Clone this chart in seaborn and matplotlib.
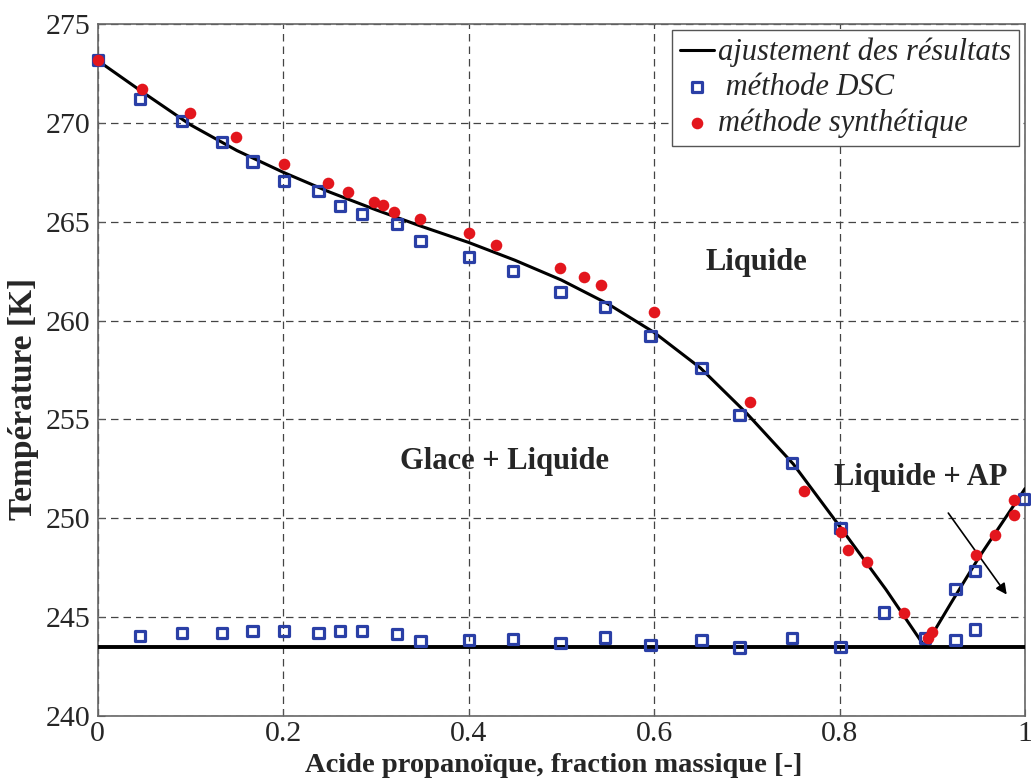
import matplotlib
matplotlib.use("Agg")
import matplotlib.pyplot as plt
import seaborn as sns
import pandas as pd

# ---- data ----
fit_liq_x = [0.0, 0.05, 0.10, 0.15, 0.20, 0.25, 0.30, 0.35, 0.40, 0.45, 0.50,
             0.55, 0.60, 0.65, 0.70, 0.75, 0.80, 0.85, 0.892]
fit_liq_T = [273.15, 271.5, 269.9, 268.6, 267.5, 266.5, 265.6, 264.75, 263.95,
             263.05, 262.05, 260.85, 259.4, 257.6, 255.3, 252.75, 249.6, 246.4, 243.5]
fit_ap_x = [0.892, 0.92, 0.95, 1.0]
fit_ap_T = [243.5, 245.7, 248.0, 251.5]
fit_sol_x = [0.0, 1.0]
fit_sol_T = [243.5, 243.5]

dsc_liq_x = [0.0, 0.046, 0.091, 0.134, 0.167, 0.201, 0.238, 0.261, 0.285, 0.323,
             0.348, 0.400, 0.448, 0.499, 0.547, 0.596, 0.651, 0.692, 0.749, 0.801,
             0.848, 0.892, 0.925, 0.946, 0.999]
dsc_liq_T = [273.18, 271.2, 270.11, 269.02, 268.04, 267.07, 266.57, 265.81, 265.37,
             264.87, 264.02, 263.23, 262.51, 261.46, 260.67, 259.22, 257.62, 255.22,
             252.78, 249.49, 245.24, 243.93, 246.41, 247.33, 250.96]
dsc_sol_x = [0.046, 0.091, 0.134, 0.167, 0.201, 0.238, 0.261, 0.285, 0.323, 0.348,
             0.400, 0.448, 0.499, 0.547, 0.596, 0.651, 0.692, 0.749, 0.801, 0.925, 0.946]
dsc_sol_T = [244.03, 244.2, 244.2, 244.28, 244.28, 244.2, 244.28, 244.28, 244.13,
             243.79, 243.84, 243.89, 243.70, 243.97, 243.59, 243.84, 243.47, 243.96,
             243.5, 243.84, 244.38]

syn_x = [0.0, 0.048, 0.100, 0.149, 0.201, 0.248, 0.270, 0.298, 0.308, 0.319, 0.348,
         0.400, 0.430, 0.499, 0.524, 0.543, 0.600, 0.703, 0.762, 0.802, 0.809, 0.830,
         0.870, 0.895, 0.900, 0.947, 0.968, 0.988, 0.988]
syn_T = [273.18, 271.71, 270.48, 269.27, 267.92, 266.94, 266.52, 266.01, 265.85,
         265.47, 265.12, 264.41, 263.82, 262.68, 262.22, 261.80, 260.42, 255.88,
         251.38, 249.29, 248.39, 247.80, 245.19, 243.93, 244.23, 248.14, 249.15,
         250.16, 250.92]

x_ticks = [0, 0.2, 0.4, 0.6, 0.8, 1]
x_ticklabels = ["0", "0.2", "0.4", "0.6", "0.8", "1"]
y_ticks = [240, 245, 250, 255, 260, 265, 270, 275]

labels = ["ajustement des résultats", " méthode DSC", "méthode synthétique"]
region_labels = ["Liquide", "Glace + Liquide", "Liquide + AP"]

# ---- style ----
sns.set_style("ticks")
plt.rcParams["font.family"] = ["Liberation Serif", "DejaVu Serif"]

fig = plt.figure(figsize=(10.31, 7.81), dpi=100)
ax = fig.add_axes([0.0948, 0.0832, 0.8994, 0.8861])

blue = "#2a3fa6"
red = "#e3161d"

# fit lines
sns.lineplot(x=fit_liq_x, y=fit_liq_T, ax=ax, color="black", lw=2.2,
             sort=False, label=labels[0], zorder=3)
sns.lineplot(x=fit_ap_x, y=fit_ap_T, ax=ax, color="black", lw=2.2,
             sort=False, zorder=3, legend=False)
sns.lineplot(x=fit_sol_x, y=fit_sol_T, ax=ax, color="black", lw=2.8,
             sort=False, zorder=3, legend=False)

dsc = pd.DataFrame({"x": dsc_liq_x + dsc_sol_x, "T": dsc_liq_T + dsc_sol_T})
syn = pd.DataFrame({"x": syn_x, "T": syn_T})
sns.scatterplot(data=dsc, x="x", y="T", ax=ax, marker="s", s=54,
                facecolor="none", edgecolor=blue, linewidth=2.3,
                label=labels[1], zorder=4, clip_on=False)
sns.scatterplot(data=syn, x="x", y="T", ax=ax, marker="o", s=70,
                color=red, edgecolor=red, linewidth=0,
                label=labels[2], zorder=5, clip_on=False)

ax.set_xlim(0, 1)
ax.set_ylim(240, 275)
ax.set_xticks(x_ticks)
ax.set_xticklabels(x_ticklabels)
ax.set_yticks(y_ticks)
ax.tick_params(direction="in", length=5, labelsize=21.5, color="#555555")
ax.tick_params(axis="x", pad=3.5)
ax.tick_params(axis="y", pad=5.5)
for s in ax.spines.values():
    s.set_color("#666666")
    s.set_linewidth(1.2)

ax.grid(True, linestyle=(0, (6, 4)), color="#444444", linewidth=0.9)
ax.set_axisbelow(True)

ax.set_xlabel("Acide propanoïque, fraction massique [-]", fontsize=20.5,
              fontweight="bold")
ax.set_ylabel("Température [K]", fontsize=24, fontweight="bold")
ax.xaxis.set_label_coords(0.492, -0.054)
ax.yaxis.set_label_coords(-0.063, 0.458)

ax.text(0.710, 262.96, region_labels[0], fontsize=22, fontweight="bold",
        ha="center", va="center")
ax.text(0.439, 252.85, region_labels[1], fontsize=22, fontweight="bold",
        ha="center", va="center")
ax.text(0.888, 252.04, region_labels[2], fontsize=22, fontweight="bold",
        ha="center", va="center")
ax.annotate("", xy=(0.982, 246.03), xytext=(0.9155, 250.38),
            arrowprops=dict(arrowstyle="-|>", color="black", lw=1.2,
                            mutation_scale=16))

leg = ax.legend(loc="upper right", frameon=True, fancybox=False,
                edgecolor="#555555", framealpha=1, borderaxespad=0.2,
                handlelength=1.1, handletextpad=0.15, labelspacing=0.2,
                borderpad=0.25, prop={"style": "italic", "size": 22})
leg.get_frame().set_linewidth(1.0)

fig.savefig("out.png", dpi=100)
